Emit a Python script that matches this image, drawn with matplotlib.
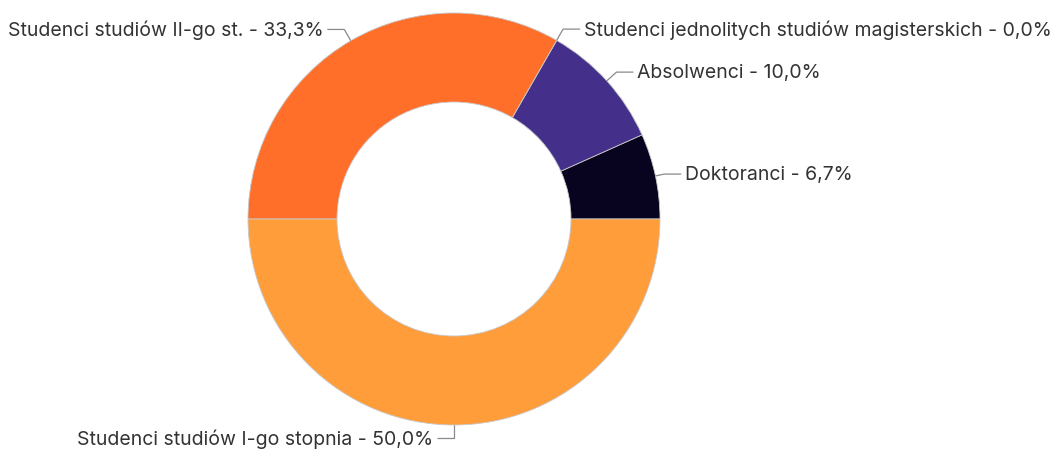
import numpy as np
import matplotlib
matplotlib.use("Agg")
from matplotlib import pyplot as plt

# data, in drawing order (counterclockwise from 3 o'clock)
labels = ["Doktoranci", "Absolwenci", "Studenci jednolitych studiów magisterskich",
          "Studenci studiów II-go st.", "Studenci studiów I-go stopnia"]
shares = [6.7, 10.0, 0.0, 33.3, 50.0]
colors = ["#08041f", "#44308a", "#ff8c00", "#ff6f2a", "#ff9d3b"]

plt.rcParams["font.family"] = ["Inter", "DejaVu Sans"]

W, H = 1054, 452
fig = plt.figure(figsize=(W / 100, H / 100), dpi=100)
ax = fig.add_axes([0, 0, 1, 1])

cx, cy, R = 454, H - 220, 206
wedges, _ = ax.pie(shares, colors=colors, startangle=0, counterclock=True,
                   center=(cx, cy), radius=R, frame=True,
                   wedgeprops=dict(width=R - 117, edgecolor="#c8c8c8", linewidth=0.6))
ax.set_xlim(0, W)
ax.set_ylim(0, H)
ax.set_aspect("equal")
ax.axis("off")

for w, lab, s in zip(wedges, labels, shares):
    a = np.deg2rad((w.theta1 + w.theta2) / 2)
    x0, y0 = cx + R * np.cos(a), cy + R * np.sin(a)
    ln = 9 if abs(np.sin(a)) < 0.3 else 13
    x1, y1 = x0 + ln * np.cos(a), y0 + ln * np.sin(a)
    side = 1 if np.cos(a) > 0.01 else -1
    x2 = x1 + side * 17
    ax.plot([x0, x1, x2], [y0, y1, y1], color="#8a8a8a", lw=0.9, solid_capstyle="butt")
    pct = f"{s:.1f}".replace(".", ",")
    ax.text(x2 + side * 4, y1, f"{lab} - {pct}%", ha="left" if side > 0 else "right",
            va="center", fontsize=14, color="#333333")

fig.savefig("out.png", dpi=100, facecolor="white")
